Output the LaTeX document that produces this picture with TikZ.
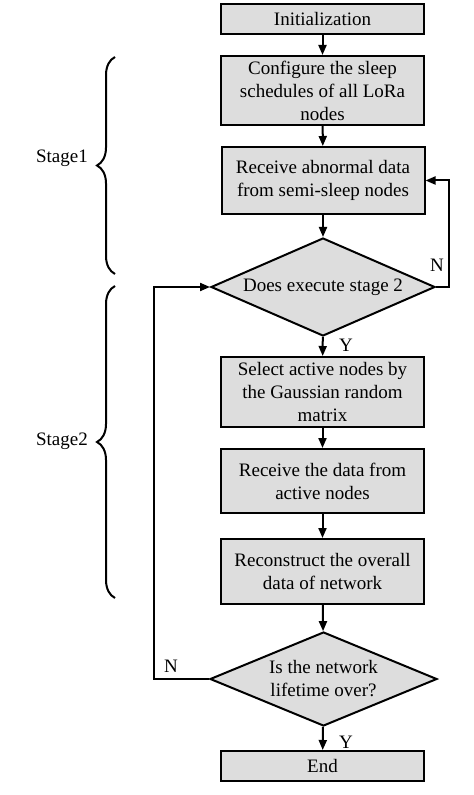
\documentclass[tikz,border=0pt]{standalone}
\usepackage{fontspec}
\setmainfont{Liberation Serif}
\usepackage{tikz}
\usetikzlibrary{shapes.geometric,arrows.meta,decorations.pathreplacing}
\definecolor{boxgray}{RGB}{221,221,221}

\begin{document}
\begin{tikzpicture}[x=0.5pt, y=0.5pt, >={Triangle[length=5pt,width=4pt]}, line width=1pt,
  every node/.style={font=\fontsize{9.5}{11.5}\selectfont},
  process/.style={draw, fill=boxgray, minimum width=101.5pt, align=center, inner sep=0pt},
  decision/.style={draw, fill=boxgray, diamond, aspect=2.24, align=center, inner sep=0pt,
    minimum width=112pt, minimum height=49pt},
  stage brace/.style={decorate, decoration={brace, amplitude=9pt}}]

\useasboundingbox (0,0) rectangle (474,-795);

\node [process, minimum height=15pt] (init) at (322.5,-19) {Initialization};
\node [process, minimum height=34.5pt] (config) at (322.5,-90.5)
  {Configure the sleep\\schedules of all LoRa\\nodes};
\node [process, minimum height=33.5pt] (recv) at (323,-180.5)
  {Receive abnormal data\\from semi-sleep nodes};
\node [decision] (dec1) at (323,-287) {Does execute stage 2};
\node [process, minimum height=35pt] (select) at (322.5,-392)
  {Select active nodes by\\the Gaussian random\\matrix};
\node [process, minimum height=32pt] (recvdata) at (322.5,-481)
  {Receive the data from\\active nodes};
\node [process, minimum height=32.5pt] (recon) at (322.5,-571.5)
  {Reconstruct the overall\\data of  network};
\node [decision, minimum width=113.5pt, minimum height=47pt] (dec2) at (323.5,-679)
  {Is the network\\lifetime over?};
\node [process, minimum height=15pt] (end) at (322.5,-766) {End};

\foreach \a/\b in {init/config, config/recv, recv/dec1, dec1/select,
                   select/recvdata, recvdata/recon, recon/dec2, dec2/end}
  \draw [->] (\a) -- (\b);

\draw [->] (dec1.east) -- ++(13,0) |- (recv.east);
\draw [->] (dec2.west) -- ++(-55,0) |- (dec1.west);

\node (n1) at (437,-265) {N};
\node (y1) at (346,-345) {Y};
\node (n2) at (171,-666) {N};
\node (y2) at (346,-742) {Y};

\draw [stage brace] (115,-274) -- (115,-57);
\draw [stage brace] (115,-598) -- (115,-286);

\node (stage1) at (62,-158) {Stage1};
\node (stage2) at (62,-441) {Stage2};

\end{tikzpicture}
\end{document}
